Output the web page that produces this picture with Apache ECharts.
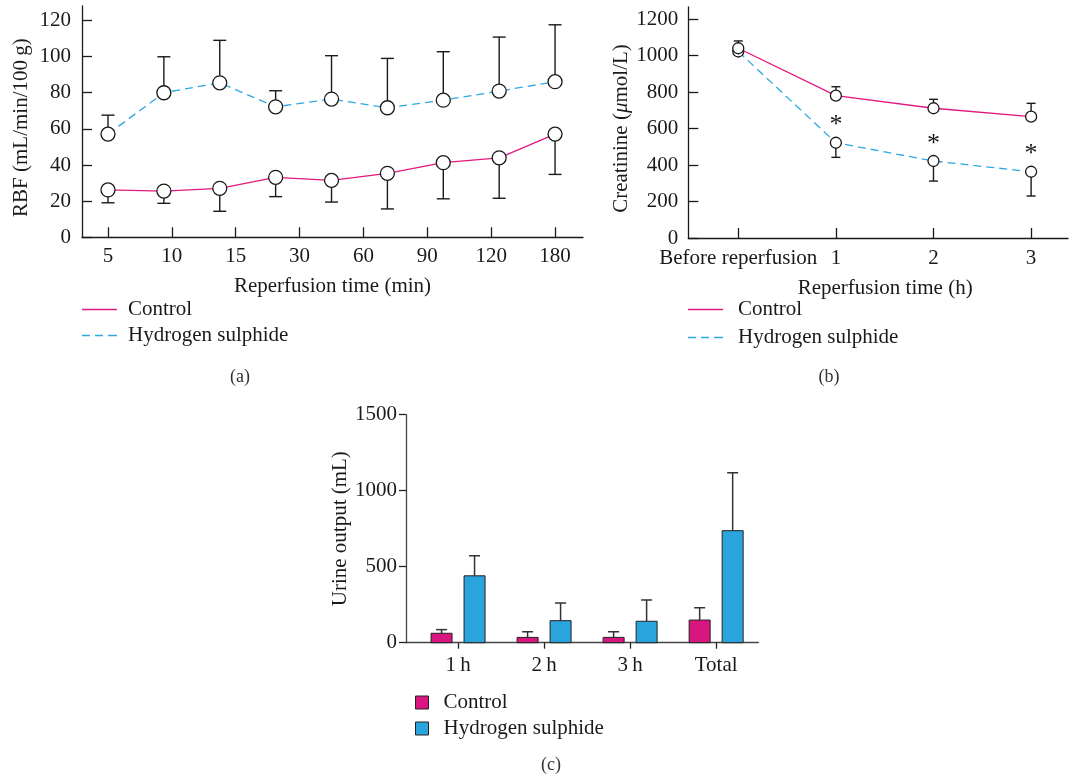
<!DOCTYPE html>
<html><head><meta charset="utf-8">
<script src="https://cdn.jsdelivr.net/npm/echarts@6/dist/echarts.min.js"></script>
<style>html,body{margin:0;padding:0;background:#fff}#c{width:1071px;height:777px}</style>
</head><body><div id="c"></div>
<script>
// ---------- Panel (a): renal blood flow ----------
const rbfTickLabels = ['5', '10', '15', '30', '60', '90', '120', '180'];
const rbfControl     = [26.2, 25.6, 27.1, 33.2, 31.5, 35.4, 41.3, 44.0, 57.1];
const rbfControlLow  = [19.1, 18.8, 14.4, 22.5, 19.5, 15.7, 21.3, 21.6, 34.8];
const rbfH2S         = [57.1, 80.0, 85.5, 72.2, 76.5, 71.7, 75.9, 80.9, 86.1];
const rbfH2SHigh     = [67.6, 99.9, 109.0, 81.1, 100.5, 99.0, 102.7, 110.8, 117.6];
const rbfYTicks      = [0, 20, 40, 60, 80, 100, 120];

// ---------- Panel (b): creatinine ----------
const creatCategories  = ['Before reperfusion', '1', '2', '3'];
const creatControl     = [1040, 780, 711, 665];
const creatControlHigh = [1080, 829, 760, 738];
const creatH2S         = [1022, 522, 422, 363];
const creatH2SLow      = [1005, 442, 312, 230];
const creatSignificant = [false, true, true, true];
const creatYTicks      = [0, 200, 400, 600, 800, 1000, 1200];

// ---------- Panel (c): urine output ----------
const urineCategories   = ['1\u2009h', '2\u2009h', '3\u2009h', 'Total'];
const urineControl      = [62, 35, 35, 149];
const urineControlHigh  = [86, 72, 72, 230];
const urineH2S          = [440, 145, 141, 737];
const urineH2SHigh      = [572, 261, 281, 1118];

// ---------- styles ----------
const FONT = "'Liberation Serif', 'Times New Roman', serif";
const PINK = '#e2187f';
const BLUE = '#2ea8e0';
const BAR_PINK = '#d9167f';
const BAR_BLUE = '#29a4dc';
const INK = '#1a1a1a';
const FS = 21;

const rbfX = rbfControl.map((_, i) => i);
const rbfTickPos = rbfTickLabels.map((_, k) => k * (rbfControl.length - 1) / (rbfTickLabels.length - 1));
const creatX = creatCategories.map((_, i) => i);
const urineX = urineCategories.map((_, i) => i);

function errRender(capW) {
  return function (params, api) {
    const x = api.value(0), y = api.value(1), e = api.value(2);
    const p0 = api.coord([x, y]), p1 = api.coord([x, e]);
    return { type: 'group', children: [
      { type: 'line', shape: { x1: p0[0], y1: p0[1], x2: p1[0], y2: p1[1] }, style: { stroke: INK, lineWidth: 1.4 } },
      { type: 'line', shape: { x1: p1[0] - capW / 2, y1: p1[1], x2: p1[0] + capW / 2, y2: p1[1] }, style: { stroke: INK, lineWidth: 1.4 } }
    ] };
  };
}
const BAR_W = 21, BAR_OFF = 16.5, BAR_CAP = 11;
function barRender(sign) {
  return function (params, api) {
    const i = api.value(0), v = api.value(1), hi = api.value(2);
    const base = api.coord([i, 0]), top = api.coord([i, v]), err = api.coord([i, hi]);
    const cx = base[0] + sign * BAR_OFF;
    return { type: 'group', children: [
      { type: 'line', shape: { x1: cx, y1: top[1], x2: cx, y2: err[1] }, style: { stroke: '#333', lineWidth: 1.5 } },
      { type: 'line', shape: { x1: cx - BAR_CAP / 2, y1: err[1], x2: cx + BAR_CAP / 2, y2: err[1] }, style: { stroke: '#333', lineWidth: 1.5 } },
      { type: 'rect', shape: { x: cx - BAR_W / 2, y: top[1], width: BAR_W, height: base[1] - top[1] },
        style: { fill: api.visual('color'), stroke: '#222', lineWidth: 1 } }
    ] };
  };
}

const axisLine = { show: true, onZero: false, lineStyle: { color: INK, width: 1.3 } };
const axisLineC = { show: true, onZero: false, lineStyle: { color: '#444', width: 1.3 } };
const labelStyle = { fontFamily: FONT, fontSize: FS, color: INK };
const nameStyle = { fontFamily: FONT, fontSize: FS, color: INK };
const plain = v => String(v);
const pick = (pos, labels) => v => { const k = pos.findIndex(t => Math.abs(t - v) < 1e-6); return k >= 0 ? labels[k] : ''; };

const solidIcon = 'path://M0,0h35v1.4h-35z';
const dashIcon = 'path://M0,0h8v1.4h-8zM13,0h8v1.4h-8zM26,0h9v1.4h-9z';
const legendText = pad => ({ fontFamily: FONT, fontSize: FS, color: INK, lineHeight: 20, padding: [0, 0, 0, pad] });

const option = {
  animation: false,
  backgroundColor: '#fff',
  grid: [
    { left: 82, top: 6, width: 501, height: 231.3 },
    { left: 688.3, top: 7, right: 3, height: 231 },
    { left: 406, top: 414.7, width: 352.3, height: 228 }
  ],
  xAxis: [
    { gridIndex: 0, type: 'value', min: -0.465, max: 8.5, axisLine,
      splitLine: { show: false },
      axisTick: { show: true, inside: true, length: 10, customValues: rbfTickPos, lineStyle: { color: INK, width: 1.3 } },
      axisLabel: { ...labelStyle, margin: 9, customValues: rbfTickPos, formatter: pick(rbfTickPos, rbfTickLabels) },
      name: 'Reperfusion time (min)', nameLocation: 'middle', nameGap: 39, nameTextStyle: nameStyle },
    { gridIndex: 1, type: 'value', min: -0.512, max: 3.378, axisLine,
      splitLine: { show: false },
      axisTick: { show: true, inside: true, length: 10, customValues: creatX, lineStyle: { color: INK, width: 1.3 } },
      axisLabel: { ...labelStyle, margin: 10, customValues: creatX, formatter: pick(creatX, creatCategories) },
      name: 'Reperfusion time (h)', nameLocation: 'middle', nameGap: 40, nameTextStyle: { ...nameStyle, padding: [0, 0, 0, 14] } },
    { gridIndex: 2, type: 'value', min: -0.605, max: 3.49, axisLine: axisLineC,
      splitLine: { show: false },
      axisTick: { show: true, inside: false, length: 6, customValues: urineX, lineStyle: { color: '#222', width: 1.3 } },
      axisLabel: { ...labelStyle, margin: 12, customValues: urineX, formatter: pick(urineX, urineCategories) } }
  ],
  yAxis: [
    { gridIndex: 0, type: 'value', min: 0, max: 128, axisLine, splitLine: { show: false },
      axisTick: { show: true, inside: true, length: 10, customValues: rbfYTicks, lineStyle: { color: INK, width: 1.3 } },
      axisLabel: { ...labelStyle, margin: 11, customValues: rbfYTicks, formatter: plain },
      name: 'RBF (mL/min/100\u2009g)', nameLocation: 'middle', nameGap: 50,
      nameTextStyle: { ...nameStyle, padding: [0, 12, 0, 0] } },
    { gridIndex: 1, type: 'value', min: 0, max: 1266, axisLine, splitLine: { show: false },
      axisTick: { show: true, inside: true, length: 10, customValues: creatYTicks, lineStyle: { color: INK, width: 1.3 } },
      axisLabel: { ...labelStyle, margin: 10, customValues: creatYTicks, formatter: plain },
      name: 'Creatinine ({i|\u03bc}mol/L)', nameLocation: 'middle', nameGap: 56,
      nameTextStyle: { ...nameStyle, padding: [0, 12, 0, 0], rich: { i: { fontFamily: FONT, fontSize: FS, fontStyle: 'italic', color: INK } } } },
    { gridIndex: 2, type: 'value', min: 0, max: 1500, interval: 500, axisLine: axisLineC, splitLine: { show: false },
      axisTick: { show: true, inside: false, length: 7, lineStyle: { color: '#222', width: 1.3 } },
      axisLabel: { ...labelStyle, margin: 9, formatter: plain },
      name: 'Urine output (mL)', nameLocation: 'middle', nameGap: 51, nameTextStyle: nameStyle }
  ],
  legend: [
    { left: 82, top: 299, padding: 0, orient: 'vertical', itemWidth: 35, itemHeight: 2, itemGap: 5, selectedMode: false,
      textStyle: legendText(6),
      data: [ { name: 'Control', icon: solidIcon, itemStyle: { color: PINK, borderWidth: 0 } },
              { name: 'Hydrogen sulphide', icon: dashIcon, itemStyle: { color: BLUE, borderWidth: 0 } } ] },
    { left: 688, top: 299, padding: 0, orient: 'vertical', itemWidth: 35, itemHeight: 2, itemGap: 7, selectedMode: false,
      textStyle: legendText(10),
      data: [ { name: 'Control', icon: solidIcon, itemStyle: { color: PINK, borderWidth: 0 } },
              { name: 'Hydrogen sulphide', icon: dashIcon, itemStyle: { color: BLUE, borderWidth: 0 } } ] },
    { left: 415, top: 692, padding: 0, orient: 'vertical', itemWidth: 13, itemHeight: 13, itemGap: 5, selectedMode: false,
      textStyle: legendText(10),
      data: [ { name: 'Control', icon: 'rect', itemStyle: { color: BAR_PINK, borderColor: '#222', borderWidth: 1 } },
              { name: 'Hydrogen sulphide', icon: 'rect', itemStyle: { color: BAR_BLUE, borderColor: '#222', borderWidth: 1 } } ] }
  ],
  graphic: [
    { type: 'text', x: 240, y: 377, style: { text: '(a)', font: `18px ${FONT}`, fill: '#333', textAlign: 'center', textVerticalAlign: 'middle' } },
    { type: 'text', x: 829, y: 377, style: { text: '(b)', font: `18px ${FONT}`, fill: '#333', textAlign: 'center', textVerticalAlign: 'middle' } },
    { type: 'text', x: 551, y: 765, style: { text: '(c)', font: `18px ${FONT}`, fill: '#333', textAlign: 'center', textVerticalAlign: 'middle' } }
  ],
  series: [
    // (a) error bars
    { type: 'custom', xAxisIndex: 0, yAxisIndex: 0, z: 1, silent: true, renderItem: errRender(13),
      encode: { x: 0, y: [1, 2] }, data: rbfX.map((x, i) => [x, rbfControl[i], rbfControlLow[i]]) },
    { type: 'custom', xAxisIndex: 0, yAxisIndex: 0, z: 1, silent: true, renderItem: errRender(13),
      encode: { x: 0, y: [1, 2] }, data: rbfX.map((x, i) => [x, rbfH2S[i], rbfH2SHigh[i]]) },
    // (a) lines
    { name: 'Control', type: 'line', xAxisIndex: 0, yAxisIndex: 0, z: 3, symbol: 'circle', symbolSize: 14,
      showAllSymbol: true, emphasis: { disabled: true },
      lineStyle: { color: PINK, width: 1.3 }, itemStyle: { color: '#fff', borderColor: INK, borderWidth: 1.3 },
      data: rbfX.map((x, i) => [x, rbfControl[i]]) },
    { name: 'Hydrogen sulphide', type: 'line', xAxisIndex: 0, yAxisIndex: 0, z: 3, symbol: 'circle', symbolSize: 14,
      showAllSymbol: true, emphasis: { disabled: true },
      lineStyle: { color: BLUE, width: 1.3, type: [8, 5] }, itemStyle: { color: '#fff', borderColor: INK, borderWidth: 1.3 },
      data: rbfX.map((x, i) => [x, rbfH2S[i]]) },
    // (b) error bars
    { type: 'custom', xAxisIndex: 1, yAxisIndex: 1, z: 1, silent: true, renderItem: errRender(9),
      encode: { x: 0, y: [1, 2] }, data: creatX.map((x, i) => [x, creatControl[i], creatControlHigh[i]]) },
    { type: 'custom', xAxisIndex: 1, yAxisIndex: 1, z: 1, silent: true, renderItem: errRender(9),
      encode: { x: 0, y: [1, 2] }, data: creatX.map((x, i) => [x, creatH2S[i], creatH2SLow[i]]) },
    // (b) lines
    { name: 'Hydrogen sulphide', type: 'line', xAxisIndex: 1, yAxisIndex: 1, z: 3, symbol: 'circle', symbolSize: 11,
      showAllSymbol: true, emphasis: { disabled: true },
      lineStyle: { color: BLUE, width: 1.3, type: [8, 5] }, itemStyle: { color: '#fff', borderColor: INK, borderWidth: 1.3 },
      label: { show: false, formatter: '*', position: 'top', distance: -2, fontFamily: FONT, fontSize: 26, color: INK },
      data: creatX.map((x, i) => ({ value: [x, creatH2S[i]], label: { show: creatSignificant[i] } })) },
    { name: 'Control', type: 'line', xAxisIndex: 1, yAxisIndex: 1, z: 4, symbol: 'circle', symbolSize: 11,
      showAllSymbol: true, emphasis: { disabled: true },
      lineStyle: { color: PINK, width: 1.3 }, itemStyle: { color: '#fff', borderColor: INK, borderWidth: 1.3 },
      data: creatX.map((x, i) => [x, creatControl[i]]) },
    // (c) bars
    { name: 'Control', type: 'custom', xAxisIndex: 2, yAxisIndex: 2, z: 2, silent: true, renderItem: barRender(-1),
      itemStyle: { color: BAR_PINK }, encode: { x: 0, y: [1, 2] },
      data: urineX.map((x, i) => [x, urineControl[i], urineControlHigh[i]]) },
    { name: 'Hydrogen sulphide', type: 'custom', xAxisIndex: 2, yAxisIndex: 2, z: 2, silent: true, renderItem: barRender(1),
      itemStyle: { color: BAR_BLUE }, encode: { x: 0, y: [1, 2] },
      data: urineX.map((x, i) => [x, urineH2S[i], urineH2SHigh[i]]) }
  ]
};

const chart = echarts.init(document.getElementById('c'), null, { renderer: 'canvas' });
chart.setOption(option);
</script>
</body></html>
